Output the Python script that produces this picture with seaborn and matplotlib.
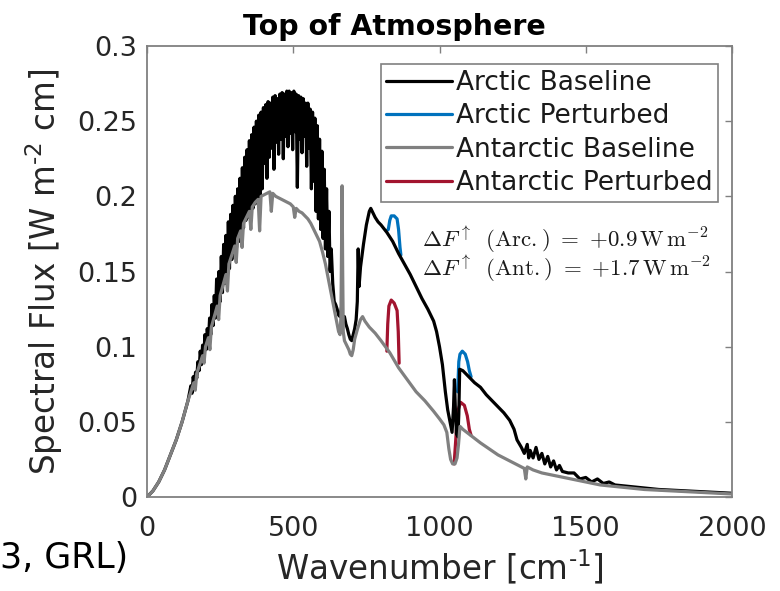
import matplotlib
matplotlib.use("Agg")
import matplotlib.pyplot as plt
import seaborn as sns
import pandas as pd

# ---------------- data ----------------
arctic_baseline = [
    (0, 0.0), (10, 0.002), (20, 0.004), (30, 0.007), (40, 0.010), (50, 0.014), (60, 0.018),
    (70, 0.023), (80, 0.028), (90, 0.033), (100, 0.038), (110, 0.044), (120, 0.050),
    (130, 0.057), (140, 0.064),
    (150, 0.074), (154, 0.069), (158, 0.080), (162, 0.074), (166, 0.083), (170, 0.079),
    (174, 0.090), (178, 0.084), (182, 0.097), (186, 0.088), (190, 0.101), (194, 0.092),
    (198, 0.108), (202, 0.098), (206, 0.112), (210, 0.103), (214, 0.119), (218, 0.108),
    (222, 0.128), (226, 0.114), (230, 0.134), (234, 0.119), (238, 0.145), (242, 0.124),
    (246, 0.150), (250, 0.130), (254, 0.160), (258, 0.136), (262, 0.168), (266, 0.142),
    (270, 0.174), (274, 0.148), (278, 0.183), (282, 0.152), (286, 0.188), (290, 0.158),
    (294, 0.194), (298, 0.162), (302, 0.200), (306, 0.166), (310, 0.205), (314, 0.170),
    (318, 0.212), (322, 0.175), (326, 0.219), (330, 0.179), (334, 0.226), (338, 0.184),
    (342, 0.231), (346, 0.186), (350, 0.237), (354, 0.190), (358, 0.241), (362, 0.192),
    (366, 0.246), (370, 0.195), (374, 0.250), (378, 0.197), (382, 0.254), (386, 0.200),
    (390, 0.256), (394, 0.205), (398, 0.259), (402, 0.222), (406, 0.261), (410, 0.212),
    (414, 0.263), (418, 0.226), (422, 0.262), (426, 0.232), (430, 0.266), (434, 0.218),
    (438, 0.267), (442, 0.236), (446, 0.265), (450, 0.228), (454, 0.268), (458, 0.238),
    (462, 0.269), (466, 0.225), (470, 0.268), (474, 0.240), (478, 0.270), (482, 0.233),
    (486, 0.270), (490, 0.242), (494, 0.269), (498, 0.231), (502, 0.270), (506, 0.243),
    (510, 0.268), (514, 0.206), (518, 0.267), (522, 0.238), (526, 0.266), (530, 0.229),
    (534, 0.265), (538, 0.240), (542, 0.262), (546, 0.220), (550, 0.262), (554, 0.232),
    (558, 0.258), (562, 0.205), (566, 0.256), (570, 0.210), (574, 0.252), (578, 0.190),
    (582, 0.247), (586, 0.185), (590, 0.238), (594, 0.178), (598, 0.230), (602, 0.172),
    (606, 0.218), (610, 0.165), (614, 0.205), (618, 0.160), (622, 0.190), (626, 0.150),
    (630, 0.165),
    (635, 0.142), (640, 0.130), (645, 0.128), (650, 0.125), (655, 0.121), (660, 0.120),
    (665, 0.126), (670, 0.118), (675, 0.120), (680, 0.115), (685, 0.112), (690, 0.108),
    (695, 0.105), (700, 0.104), (705, 0.108), (710, 0.112), (715, 0.118), (719, 0.130),
    (722, 0.165), (725, 0.140), (730, 0.153), (740, 0.168), (750, 0.181), (760, 0.190),
    (765, 0.192), (770, 0.190), (780, 0.186), (790, 0.183), (800, 0.181), (820, 0.176),
    (840, 0.170), (860, 0.162), (880, 0.155), (900, 0.148), (920, 0.140), (940, 0.132),
    (960, 0.125), (980, 0.117), (990, 0.110), (1000, 0.100), (1010, 0.088), (1020, 0.070),
    (1028, 0.058), (1036, 0.050), (1043, 0.043), (1048, 0.060), (1051, 0.078),
    (1054, 0.060), (1058, 0.042), (1063, 0.040), (1066, 0.055), (1069, 0.085),
    (1080, 0.084), (1090, 0.082), (1100, 0.080), (1120, 0.076), (1140, 0.073),
    (1160, 0.068), (1180, 0.064), (1200, 0.060), (1220, 0.056), (1240, 0.051),
    (1255, 0.045), (1265, 0.038), (1280, 0.033), (1290, 0.029), (1300, 0.035),
    (1305, 0.026), (1310, 0.031), (1320, 0.026), (1330, 0.033), (1340, 0.025),
    (1350, 0.029), (1360, 0.022), (1370, 0.027), (1380, 0.020), (1390, 0.024),
    (1400, 0.018), (1410, 0.021), (1420, 0.017), (1440, 0.016), (1460, 0.016),
    (1480, 0.012), (1500, 0.013), (1520, 0.010), (1540, 0.012), (1560, 0.009),
    (1580, 0.010), (1600, 0.008), (1650, 0.007), (1700, 0.006), (1750, 0.005),
    (1800, 0.0045), (1850, 0.004), (1900, 0.0035), (1950, 0.003), (2000, 0.0025),
]

antarctic_baseline = [
    (0, 0.0), (10, 0.002), (20, 0.004), (30, 0.007), (40, 0.010), (50, 0.014), (60, 0.018),
    (70, 0.023), (80, 0.028), (90, 0.033), (100, 0.038), (110, 0.044), (120, 0.050),
    (130, 0.057), (140, 0.064), (150, 0.070), (160, 0.076), (165, 0.071), (170, 0.082),
    (180, 0.088), (190, 0.094), (195, 0.089), (200, 0.100), (210, 0.106), (215, 0.098),
    (220, 0.113), (230, 0.120), (240, 0.127), (245, 0.118), (250, 0.134), (260, 0.141),
    (270, 0.148), (275, 0.137), (280, 0.155), (290, 0.161), (300, 0.167), (305, 0.156),
    (310, 0.172), (320, 0.177), (325, 0.166), (330, 0.182), (340, 0.186), (350, 0.190),
    (355, 0.178), (360, 0.193), (370, 0.196), (380, 0.198), (385, 0.177), (390, 0.200),
    (400, 0.201), (410, 0.202), (420, 0.203), (425, 0.190), (430, 0.202), (440, 0.200),
    (450, 0.199), (460, 0.198), (470, 0.197), (480, 0.196), (490, 0.195), (500, 0.193),
    (505, 0.186), (510, 0.192), (520, 0.190), (530, 0.189), (540, 0.187), (550, 0.185),
    (560, 0.182), (570, 0.178), (580, 0.174), (590, 0.170), (600, 0.163), (610, 0.155),
    (620, 0.145), (630, 0.135), (640, 0.125), (650, 0.115), (655, 0.110), (660, 0.108),
    (663, 0.120), (665, 0.160), (667, 0.207), (669, 0.150), (671, 0.110), (675, 0.104),
    (680, 0.102), (690, 0.098), (695, 0.095), (700, 0.094), (705, 0.098), (710, 0.105),
    (720, 0.112), (730, 0.118), (737, 0.120), (745, 0.117), (760, 0.113), (780, 0.109),
    (800, 0.104), (830, 0.096), (860, 0.086), (890, 0.078), (920, 0.070), (950, 0.064),
    (980, 0.057), (1000, 0.052), (1015, 0.048), (1025, 0.043), (1032, 0.032),
    (1038, 0.025), (1045, 0.022), (1053, 0.022), (1060, 0.026), (1065, 0.035),
    (1070, 0.047), (1080, 0.045), (1100, 0.042), (1120, 0.039), (1140, 0.036),
    (1170, 0.032), (1200, 0.028), (1230, 0.025), (1260, 0.022), (1280, 0.020),
    (1290, 0.019), (1295, 0.012), (1300, 0.020), (1320, 0.018), (1350, 0.016),
    (1400, 0.014), (1450, 0.012), (1500, 0.010), (1550, 0.008), (1600, 0.007),
    (1700, 0.005), (1800, 0.004), (1900, 0.003), (2000, 0.002),
]

# perturbed spectra: only the bands that differ from the baseline
arctic_perturbed_band1 = [(818, 0.177), (825, 0.178), (830, 0.184), (835, 0.187), (845, 0.187),
                          (855, 0.185), (860, 0.178), (865, 0.166), (868, 0.161)]
arctic_perturbed_band2 = [(1062, 0.070), (1066, 0.090), (1070, 0.095), (1078, 0.097),
                          (1088, 0.095), (1096, 0.090), (1102, 0.084), (1108, 0.080)]
antarctic_perturbed_band1 = [(820, 0.097), (823, 0.115), (827, 0.127), (835, 0.131),
                             (845, 0.129), (855, 0.124), (859, 0.110), (862, 0.089)]
antarctic_perturbed_band2 = [(1050, 0.022), (1058, 0.045), (1064, 0.058), (1072, 0.063),
                             (1085, 0.061), (1095, 0.054), (1102, 0.045), (1108, 0.041)]

series_names = ["Arctic Baseline", "Arctic Perturbed", "Antarctic Baseline", "Antarctic Perturbed"]
series_colors = ["#000000", "#0072BD", "#808080", "#A2142F"]

x_ticks = [0, 500, 1000, 1500, 2000]
x_tick_labels = ["0", "500", "1000", "1500", "2000"]
y_ticks = [0, 0.05, 0.1, 0.15, 0.2, 0.25, 0.3]
y_tick_labels = ["0", "0.05", "0.1", "0.15", "0.2", "0.25", "0.3"]

annotations = [r"$\Delta F^{\uparrow}\;\ (\mathrm{Arc.})\ =\ {+}0.9\,\mathrm{W\,m^{-2}}$",
               r"$\Delta F^{\uparrow}\;\ (\mathrm{Ant.})\ =\ {+}1.7\,\mathrm{W\,m^{-2}}$"]


def to_df(pairs):
    return pd.DataFrame(pairs, columns=["wn", "flux"])


# ---------------- figure ----------------
sns.set_theme(style="white")
plt.rcParams["font.family"] = ["DejaVu Sans"]
plt.rcParams["mathtext.fontset"] = "dejavusans"

fig = plt.figure(figsize=(7.8, 5.91), dpi=100)
ax = fig.add_axes([147 / 780, 94 / 591, 585 / 780, 451 / 591])

lw = 2.3
for band in (arctic_perturbed_band1, arctic_perturbed_band2):
    sns.lineplot(data=to_df(band), x="wn", y="flux", color=series_colors[1], lw=lw,
                 estimator=None, sort=False, ax=ax, legend=False)
for band in (antarctic_perturbed_band1, antarctic_perturbed_band2):
    sns.lineplot(data=to_df(band), x="wn", y="flux", color=series_colors[3], lw=lw,
                 estimator=None, sort=False, ax=ax, legend=False)
sns.lineplot(data=to_df(arctic_baseline), x="wn", y="flux", color=series_colors[0], lw=lw,
             estimator=None, sort=False, ax=ax, legend=False)
sns.lineplot(data=to_df(antarctic_baseline), x="wn", y="flux", color=series_colors[2], lw=lw,
             estimator=None, sort=False, ax=ax, legend=False)

ax.set_xlim(0, 2000)
ax.set_ylim(0, 0.3)
ax.set_xticks(x_ticks, labels=x_tick_labels)
ax.set_yticks(y_ticks, labels=y_tick_labels)
ax.tick_params(direction="in", top=True, right=True, length=5, width=1,
               color="#808080", labelcolor="#262626", labelsize=19.5, pad=7)
ax.tick_params(axis="x", pad=14)
for sp in ax.spines.values():
    sp.set_color("#808080")
    sp.set_linewidth(1.3)

ax.set_xlabel(r"Wavenumber [cm$^{\text{-1}}$]", fontsize=23.5, color="#262626")
ax.set_ylabel(r"Spectral Flux [W m$^{\text{-2}}$ cm]", fontsize=23.5, color="#262626")
ax.xaxis.set_label_coords(0.5, -0.112)
ax.yaxis.set_label_coords(-0.14, 0.5)

handles = [plt.Line2D([], [], color=c, lw=lw) for c in series_colors]
leg = ax.legend(handles, series_names, loc="upper right", bbox_to_anchor=(0.976, 0.960),
                borderaxespad=0, fontsize=19, handlelength=2.5, handletextpad=0.12,
                labelspacing=0.28, borderpad=0.22, fancybox=False, framealpha=1,
                edgecolor="#808080")
leg.get_frame().set_linewidth(1.2)
for t in leg.get_texts():
    t.set_color("#1a1a1a")

fig.text(394 / 780, 1 - 35 / 591, "Top of Atmosphere", fontweight="bold", fontsize=20.5,
         ha="center", va="baseline", color="black")

for i, s in enumerate(annotations):
    fig.text(422 / 780, 1 - (247 + 29 * i) / 591, s, fontsize=16.5, ha="left", va="baseline",
             math_fontfamily="cm", color="#1a1a1a")

fig.text(0 / 780, 1 - 568 / 591, "3, GRL)", fontsize=25, ha="left", va="baseline",
         color="black")

fig.savefig("out.png", dpi=100)
